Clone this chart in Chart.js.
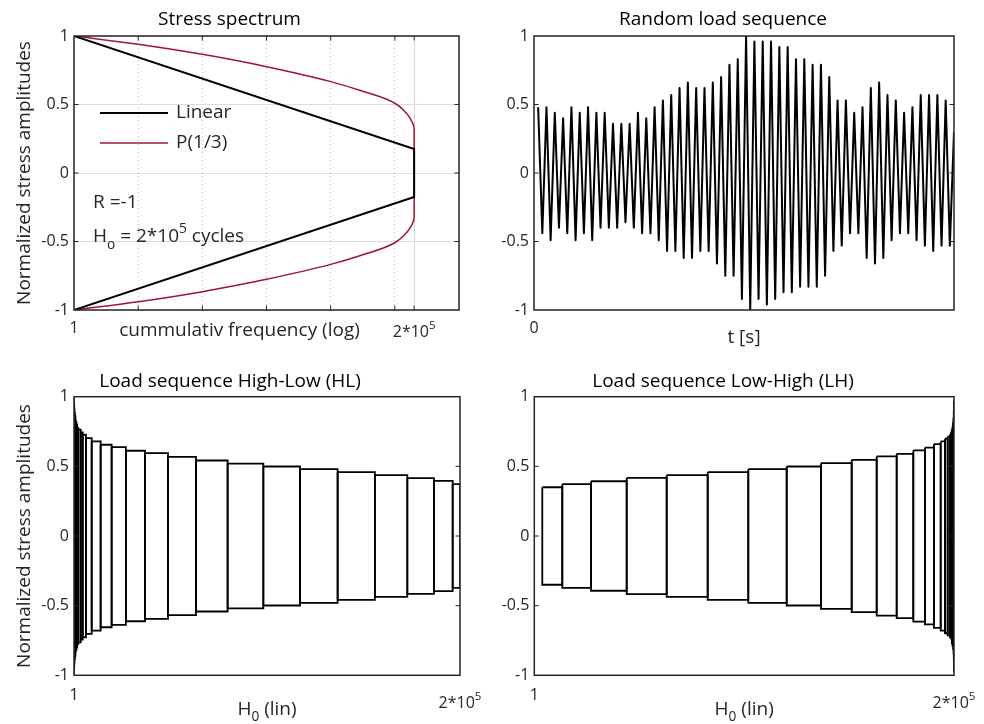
<!DOCTYPE html>
<html>
<head>
<meta charset="utf-8">
<script src="https://cdn.jsdelivr.net/npm/chart.js@4.4.1/dist/chart.umd.min.js"></script>
<style>
  html, body { margin: 0; padding: 0; background: #fff; }
  #fig { position: relative; width: 984px; height: 724px; overflow: hidden; }
  .panel { position: absolute; width: 492px; height: 362px; }
</style>
</head>
<body>
<div id="fig">
  <div class="panel" style="left:0;top:0"><canvas id="cSpec" width="492" height="362"></canvas></div>
  <div class="panel" style="left:492px;top:0"><canvas id="cRand" width="492" height="362"></canvas></div>
  <div class="panel" style="left:0;top:362px"><canvas id="cHL" width="492" height="362"></canvas></div>
  <div class="panel" style="left:492px;top:362px"><canvas id="cLH" width="492" height="362"></canvas></div>
</div>
<script>
// ==== Stress spectrum (top left), upper half; lower half is mirrored (R = -1) ====
const specX     = [1, 10, 100, 1e3, 1e4, 3e4, 1e5, 1.36e5, 1.73e5, 1.95e5, 2e5];
const specP13   = [1.0, 0.94, 0.866, 0.776, 0.667, 0.60, 0.509, 0.46, 0.40, 0.35, 0.33];
const linearX   = [1, 2e5];
const linearY   = [1, 0.175];
const specTicks = [1, 10, 100, 1e3, 1e4, 1e5, 2e5, 1e6];

// ==== Random load sequence (top right): turning points ====
const randomPeaks = [
  0.48, 0.48, 0.44, 0.40, 0.48, 0.44, 0.48, 0.44, 0.44, 0.36, 0.36, 0.36, 0.44, 0.40, 0.48, 0.53, 0.57,
  0.62, 0.66, 0.62, 0.62, 0.66, 0.70, 0.79, 0.83, 1.00, 0.96, 0.96, 0.96, 0.92, 0.92, 0.83, 0.83, 0.79,
  0.79, 0.70, 0.53, 0.53, 0.44, 0.48, 0.62, 0.66, 0.57, 0.53, 0.44, 0.48, 0.57, 0.57, 0.57, 0.53
];
const randomValleys = [
  -0.44, -0.49, -0.40, -0.44, -0.49, -0.44, -0.49, -0.40, -0.40, -0.40, -0.36, -0.40, -0.44, -0.44, -0.49, -0.57,
  -0.57, -0.62, -0.62, -0.57, -0.57, -0.66, -0.75, -0.75, -0.92, -1.00, -0.92, -0.96, -0.92, -0.87, -0.87, -0.83, -0.83,
  -0.83, -0.75, -0.57, -0.53, -0.44, -0.44, -0.62, -0.66, -0.62, -0.49, -0.44, -0.44, -0.49, -0.53, -0.57, -0.53, -0.53
];
const randomLast = 0.30;   // value where the line leaves the plot at the right edge
const randomTicks = [0];

// ==== Block sequences (bottom): block edges in cycles and block amplitudes ====
const hlEdges = [1, 50, 150, 300, 500, 750, 1000, 1300, 1600, 1900, 2230, 3470, 4510, 6220, 9170, 13800, 19500,
  26900, 36800, 48700, 63200, 79600, 98100, 117100, 136600, 155900, 172700, 186500, 196200, 200000];
const hlLevels = [0.99, 0.95, 0.92, 0.89, 0.86, 0.835, 0.815, 0.80, 0.79, 0.775, 0.763, 0.743, 0.727, 0.703, 0.679,
  0.655, 0.638, 0.612, 0.595, 0.568, 0.542, 0.520, 0.499, 0.480, 0.458, 0.437, 0.415, 0.396, 0.372];
const lhEdges = [3810, 13340, 27020, 44030, 63090, 82630, 101970, 120270, 136620, 151250, 163160, 172690, 180600,
  186170, 190460, 193660, 195700, 196990, 198090, 198600, 199000, 199300, 199550, 199750, 199880, 199950, 200000];
const lhLevels = [0.350, 0.372, 0.393, 0.417, 0.437, 0.458, 0.480, 0.499, 0.523, 0.547, 0.571, 0.590, 0.614,
  0.635, 0.660, 0.679, 0.698, 0.714, 0.73, 0.75, 0.77, 0.79, 0.82, 0.85, 0.90, 0.97];
const blockTicks = [1, 2e5];

const FONT = '"Open Sans", "DejaVu Sans", sans-serif';
const INK = '#262626';
const RED = '#A2142F';
const TXT = 19;   // titles, labels, notes
const TCK = 16;   // tick labels

// ==== Helpers ====
function richText(ctx, parts, x, y, size, align) {
  // parts: [text, 'sub'|'sup'|undefined]
  const small = size * 0.72;
  ctx.save();
  ctx.textBaseline = 'middle';
  ctx.textAlign = 'left';
  let w = 0;
  parts.forEach(([t, k]) => { ctx.font = `${k ? small : size}px ${FONT}`; w += ctx.measureText(t).width; });
  let cx = align === 'center' ? x - w / 2 : x;
  parts.forEach(([t, k]) => {
    ctx.font = `${k ? small : size}px ${FONT}`;
    const dy = k === 'sub' ? size * 0.42 : k === 'sup' ? -size * 0.42 : 0;
    ctx.fillText(t, cx, y + dy);
    cx += ctx.measureText(t).width;
  });
  ctx.restore();
}

// MATLAB-like box with inward tick marks
const boxPlugin = {
  id: 'matlabBox',
  afterDatasetsDraw(chart) {
    const { ctx, chartArea: a, scales } = chart;
    const L = 4.5;
    ctx.save();
    ctx.strokeStyle = INK;
    ctx.lineWidth = 1;
    ctx.beginPath();
    scales.y.ticks.forEach(t => {
      const py = scales.y.getPixelForValue(t.value);
      if (py <= a.top + 1 || py >= a.bottom - 1) return;
      ctx.moveTo(a.left, py); ctx.lineTo(a.left + L, py);
      ctx.moveTo(a.right, py); ctx.lineTo(a.right - L, py);
    });
    scales.x.ticks.forEach(t => {
      const px = scales.x.getPixelForValue(t.value);
      if (px <= a.left + 1 || px >= a.right - 1) return;
      ctx.moveTo(px, a.bottom); ctx.lineTo(px, a.bottom - L);
      ctx.moveTo(px, a.top); ctx.lineTo(px, a.top + L);
    });
    ctx.stroke();
    ctx.lineWidth = 1.5;
    ctx.strokeRect(a.left, a.top, a.right - a.left, a.bottom - a.top);
    ctx.restore();
  }
};

function yAxis(width, withTitle) {
  return {
    min: -1, max: 1,
    ticks: { stepSize: 0.5, color: INK, padding: 5, font: { family: FONT, size: TCK },
             callback: v => String(v) },
    grid: { display: false, drawTicks: false },
    border: { display: false },
    title: { display: withTitle, text: 'Normalized stress amplitudes', color: INK,
             font: { family: FONT, size: TXT }, padding: { top: 13.6, bottom: 0 } },
    afterFit: s => { s.width = width; s.paddingTop = 0; s.paddingBottom = 0; }
  };
}

function titleOpts(text, top, bottom) {
  return { display: true, text, color: '#000', font: { family: FONT, size: TXT, weight: 'normal' },
           padding: { top, bottom } };
}

function blockDatasets(edges, levels) {
  return levels.map((a, i) => ({
    data: [
      { x: edges[i], y: a }, { x: edges[i + 1], y: a },
      { x: edges[i + 1], y: -a }, { x: edges[i], y: -a }, { x: edges[i], y: a }
    ],
    borderColor: '#000', borderWidth: 1.8, pointRadius: 0, tension: 0, fill: false
  }));
}

// ==== Panel 1: Stress spectrum ====
const p13Upper = specX.map((x, i) => ({ x, y: specP13[i] }));
const p13Lower = specX.map((x, i) => ({ x, y: -specP13[i] }));
const p13Edge = [p13Upper[p13Upper.length - 1], p13Lower[p13Lower.length - 1]];
const linUpper = linearX.map((x, i) => ({ x, y: linearY[i] }));
const linPath = linUpper.concat(linUpper.slice().reverse().map(p => ({ x: p.x, y: -p.y })));
const redLine = { borderColor: RED, borderWidth: 1.5, pointRadius: 0, cubicInterpolationMode: 'monotone' };

new Chart(document.getElementById('cSpec'), {
  type: 'line',
  data: {
    datasets: [
      { label: 'Linear', data: linPath, borderColor: '#000', borderWidth: 2, pointRadius: 0, tension: 0 },
      Object.assign({ label: 'P(1/3)', data: p13Upper }, redLine),
      Object.assign({ label: 'P(1/3) lower', data: p13Lower }, redLine),
      Object.assign({ label: 'P(1/3) edge', data: p13Edge }, redLine, { cubicInterpolationMode: 'default', tension: 0 })
    ]
  },
  options: {
    responsive: false, animation: false,
    layout: { padding: { left: 0, right: 33, top: 0, bottom: 0 } },
    plugins: { legend: { display: false }, tooltip: { enabled: false },
               title: titleOpts('Stress spectrum', 8.6, 4.6) },
    scales: {
      x: {
        type: 'logarithmic', min: 1, max: 1e6,
        afterBuildTicks: s => { s.ticks = specTicks.map(v => ({ value: v })); },
        ticks: { autoSkip: false, maxRotation: 0, color: INK, padding: 9, font: { family: FONT, size: TCK },
                 callback: v => (v === 1 ? '1' : '') },
        grid: { drawTicks: false, lineWidth: 1,
                color: c => (c.tick && (c.tick.value === 2e5) ? '#d6d6d6' : '#bdbdbd') },
        border: { display: false, dash: c => (c.tick && c.tick.value === 2e5 ? [] : [1, 3]) },
        afterFit: s => { s.height = 52; s.paddingLeft = 0; s.paddingRight = 0; }
      },
      y: Object.assign(yAxis(74, true), {
        grid: { display: true, drawTicks: false, color: '#dcdcdc', lineWidth: 1 }
      })
    }
  },
  plugins: [boxPlugin, {
    id: 'specNotes',
    afterDraw(chart) {
      const { ctx, chartArea: a, scales } = chart;
      ctx.save();
      ctx.fillStyle = INK;
      // legend inside the axes
      ctx.lineWidth = 2; ctx.strokeStyle = '#000';
      ctx.beginPath(); ctx.moveTo(a.left + 26, a.top + 77); ctx.lineTo(a.left + 94, a.top + 77); ctx.stroke();
      ctx.lineWidth = 1.5; ctx.strokeStyle = RED;
      ctx.beginPath(); ctx.moveTo(a.left + 26, a.top + 107); ctx.lineTo(a.left + 94, a.top + 107); ctx.stroke();
      richText(ctx, [['Linear']], a.left + 102, a.top + 77, TXT, 'left');
      richText(ctx, [['P(1/3)']], a.left + 102, a.top + 107, TXT, 'left');
      richText(ctx, [['R =-1']], a.left + 19, a.top + 167, TXT, 'left');
      richText(ctx, [['H'], ['o', 'sub'], [' = 2*10'], ['5', 'sup'], [' cycles']], a.left + 19, a.top + 201, TXT, 'left');
      // axis label sits on the tick-label line
      richText(ctx, [['cummulativ frequency (log)']], a.left + 165.5, a.bottom + 21, TXT, 'center');
      richText(ctx, [['2*10'], ['5', 'sup']], scales.x.getPixelForValue(2e5), a.bottom + 22, TCK, 'center');
      ctx.restore();
    }
  }]
});

// ==== Panel 2: Random load sequence ====
const randomSeq = [];
randomPeaks.forEach((p, i) => { randomSeq.push(p, randomValleys[i]); });
randomSeq.push(randomLast);

new Chart(document.getElementById('cRand'), {
  type: 'line',
  data: {
    datasets: [{ data: randomSeq.map((v, i) => ({ x: i + 1, y: v })), borderColor: '#000', borderWidth: 2,
                 pointRadius: 0, tension: 0, borderJoinStyle: 'round' }]
  },
  options: {
    responsive: false, animation: false,
    layout: { padding: { left: 0, right: 30, top: 0, bottom: 0 } },
    plugins: { legend: { display: false }, tooltip: { enabled: false },
               title: titleOpts('Random load sequence', 8.6, 4.6) },
    scales: {
      x: {
        type: 'linear', min: 0, max: randomSeq.length,
        afterBuildTicks: s => { s.ticks = randomTicks.map(v => ({ value: v })); },
        ticks: { autoSkip: false, maxRotation: 0, color: INK, padding: 9, font: { family: FONT, size: TCK } },
        grid: { display: false, drawTicks: false },
        border: { display: false },
        title: { display: true, text: 't [s]', color: INK, font: { family: FONT, size: TXT },
                 padding: { top: 0, bottom: 12.6 } },
        afterFit: s => { s.height = 52; s.paddingLeft = 0; s.paddingRight = 0; }
      },
      y: yAxis(42, false)
    }
  },
  plugins: [boxPlugin]
});

// ==== Panels 3 and 4: block sequences ====
function blockChart(id, title, edges, levels, yWidth, withTitle, rightPad) {
  new Chart(document.getElementById(id), {
    type: 'line',
    data: { datasets: blockDatasets(edges, levels) },
    options: {
      responsive: false, animation: false,
      layout: { padding: { left: 0, right: rightPad, top: 0, bottom: 0 } },
      plugins: { legend: { display: false }, tooltip: { enabled: false },
                 title: titleOpts(title, 8.3, 3.6) },
      scales: {
        x: {
          type: 'linear', min: 1, max: 2e5,
          afterBuildTicks: s => { s.ticks = blockTicks.map(v => ({ value: v })); },
          ticks: { autoSkip: false, maxRotation: 0, color: INK, padding: 11, font: { family: FONT, size: TCK },
                   callback: v => (v === 1 ? '1' : '') },
          grid: { display: false, drawTicks: false },
          border: { display: false },
          afterFit: s => { s.height = 48.7; s.paddingLeft = 0; s.paddingRight = 0; }
        },
        y: yAxis(yWidth, withTitle)
      }
    },
    plugins: [boxPlugin, {
      id: id + 'Notes',
      afterDraw(chart) {
        const { ctx, chartArea: a, scales } = chart;
        ctx.save();
        ctx.fillStyle = INK;
        richText(ctx, [['2*10'], ['5', 'sup']], scales.x.getPixelForValue(2e5), a.bottom + 28, TCK, 'center');
        richText(ctx, [['H'], ['0', 'sub'], [' (lin)']], (a.left + a.right) / 2, a.bottom + 34, TXT, 'center');
        ctx.restore();
      }
    }]
  });
}

blockChart('cHL', 'Load sequence High-Low (HL)', hlEdges, hlLevels, 74, true, 32);
blockChart('cLH', 'Load sequence Low-High (LH)', lhEdges, lhLevels, 42.3, false, 30);
</script>
</body>
</html>
